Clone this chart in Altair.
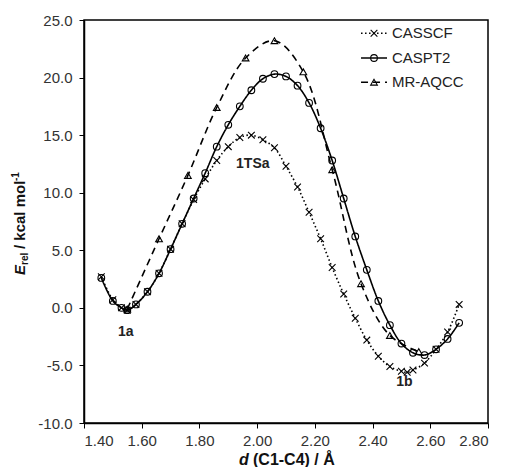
import altair as alt
import pandas as pd

series = ["CASSCF", "CASPT2", "MR-AQCC"]

d_casscf = [1.46, 1.50, 1.53, 1.55, 1.58, 1.62, 1.66, 1.70, 1.74, 1.78, 1.82, 1.86, 1.90, 1.94,
            1.98, 2.02, 2.06, 2.10, 2.14, 2.18, 2.22, 2.26, 2.30, 2.34, 2.38, 2.42, 2.46, 2.50,
            2.52, 2.54, 2.58, 2.62, 2.66, 2.70]
e_casscf = [2.7, 0.7, 0.0, -0.2, 0.3, 1.4, 3.0, 5.1, 7.3, 9.4, 11.2, 12.8, 14.0, 14.8,
            15.0, 14.6, 13.9, 12.3, 10.5, 8.3, 6.0, 3.5, 1.2, -0.9, -2.8, -4.2, -5.1, -5.5,
            -5.6, -5.4, -4.8, -3.6, -2.1, 0.3]

d_caspt2 = [1.46, 1.50, 1.53, 1.55, 1.58, 1.62, 1.66, 1.70, 1.74, 1.78, 1.82, 1.86, 1.90, 1.94,
            1.98, 2.02, 2.06, 2.10, 2.14, 2.18, 2.22, 2.26, 2.30, 2.34, 2.38, 2.42, 2.46, 2.50,
            2.54, 2.58, 2.62, 2.66, 2.70]
e_caspt2 = [2.6, 0.6, 0.0, -0.2, 0.3, 1.4, 3.0, 5.1, 7.3, 9.5, 11.7, 14.0, 15.9, 17.5,
            18.9, 19.9, 20.3, 20.1, 19.3, 17.8, 15.6, 12.8, 9.5, 6.2, 3.3, 0.6, -1.5, -3.1,
            -3.9, -4.1, -3.6, -2.7, -1.3]

d_mraqcc = [1.55, 1.66, 1.76, 1.86, 1.96, 2.06, 2.16, 2.26, 2.36, 2.46, 2.56]
e_mraqcc = [-0.1, 6.0, 11.5, 17.4, 21.7, 23.2, 20.5, 12.0, 2.1, -2.4, -3.8]

x_ticks = [1.4, 1.6, 1.8, 2.0, 2.2, 2.4, 2.6, 2.8]
y_ticks = [-10, -5, 0, 5, 10, 15, 20, 25]

labels = ["1a", "1TSa", "1b"]
label_d = [1.545, 1.985, 2.51]
label_e = [-2.1, 12.5, -6.4]

legend_e = [23.85, 21.7, 19.6]

rows = []
for name, ds, es in zip(series, [d_casscf, d_caspt2, d_mraqcc], [e_casscf, e_caspt2, e_mraqcc]):
    for d, e in zip(ds, es):
        rows.append({"series": name, "d": d, "E": e})
df = pd.DataFrame(rows)

leg = pd.DataFrame({"series": series, "E": legend_e,
                    "x0": [2.36] * 3, "x1": [2.45] * 3, "xm": [2.405] * 3, "xt": [2.467] * 3})
ann = pd.DataFrame({"label": labels, "d": label_d, "E": label_e})

FONT = "Liberation Sans"
TITLE_COLOR = "#111"
xs = alt.Scale(domain=[1.4, 2.8], nice=False, zero=False)
ys = alt.Scale(domain=[-10, 25], nice=False, zero=False)
dash_scale = alt.Scale(domain=series, range=[[1.5, 2.5], [1, 0], [7, 5]])
width_scale = alt.Scale(domain=series, range=[1.6, 1.6, 2.0])
shape_scale = alt.Scale(domain=series,
                        range=["M-1,-1L1,1M-1,1L1,-1", "circle", "triangle-up"])
size_scale = alt.Scale(domain=series, range=[45, 45, 65])

minus_fix = "datum.value < 0 ? '-' + format(-datum.value, '{f}') : format(datum.value, '{f}')"

x_axis = alt.Axis(values=x_ticks, labelExpr=minus_fix.format(f=".2f"), title=None, grid=False,
                  tickSize=5, labelPadding=5, domainColor="black",
                  tickColor="black", domainWidth=1.5, labelFont=FONT, labelFontSize=15,
                  labelColor="#333")
y_axis = alt.Axis(values=y_ticks, labelExpr=minus_fix.format(f=".1f"), title=None, grid=False,
                  tickSize=5, labelPadding=7, domainColor="black",
                  tickColor="black", domainWidth=1.5, labelFont=FONT, labelFontSize=15,
                  labelColor="#333")

base = alt.Chart(df)
lines = base.mark_line(interpolate="catmull-rom", color="black").encode(
    x=alt.X("d:Q", scale=xs, axis=x_axis),
    y=alt.Y("E:Q", scale=ys, axis=y_axis),
    strokeDash=alt.StrokeDash("series:N", scale=dash_scale, legend=None),
    strokeWidth=alt.StrokeWidth("series:N", scale=width_scale, legend=None),
    detail="series:N",
)
points = base.mark_point(filled=False, color="black", strokeWidth=1.1, opacity=1).encode(
    x=alt.X("d:Q", scale=xs),
    y=alt.Y("E:Q", scale=ys),
    shape=alt.Shape("series:N", scale=shape_scale, legend=None),
    size=alt.Size("series:N", scale=size_scale, legend=None),
)

lbase = alt.Chart(leg)
leg_lines = lbase.mark_rule(color="black").encode(
    x=alt.X("x0:Q", scale=xs), x2="x1:Q", y=alt.Y("E:Q", scale=ys),
    strokeDash=alt.StrokeDash("series:N", scale=dash_scale, legend=None),
    strokeWidth=alt.StrokeWidth("series:N", scale=width_scale, legend=None),
)
leg_pts = lbase.mark_point(filled=False, color="black", strokeWidth=1.1, opacity=1).encode(
    x=alt.X("xm:Q", scale=xs), y=alt.Y("E:Q", scale=ys),
    shape=alt.Shape("series:N", scale=shape_scale, legend=None),
    size=alt.Size("series:N", scale=size_scale, legend=None),
)
leg_txt = lbase.mark_text(align="left", baseline="middle", font=FONT, fontSize=15,
                          color="#222").encode(
    x=alt.X("xt:Q", scale=xs), y=alt.Y("E:Q", scale=ys), text="series:N",
)

ann_txt = alt.Chart(ann).mark_text(font=FONT, fontSize=14, fontWeight="bold",
                                   color="#222", baseline="middle").encode(
    x=alt.X("d:Q", scale=xs), y=alt.Y("E:Q", scale=ys), text="label:N",
)

one = alt.Chart(pd.DataFrame({"k": [0]}))


def piece(text, x, y, size, angle=0, italic=False):
    return one.mark_text(text=text, font=FONT, fontSize=size, fontWeight="bold",
                         fontStyle="italic" if italic else "normal", color=TITLE_COLOR,
                         align="left", baseline="alphabetic", angle=angle).encode(
        x=alt.value(x), y=alt.value(y))


# y-axis title: E_rel / kcal mol^-1 (rotated)
yt = [
    piece("E", -59, 255, 15, 270, True),
    piece("rel", -56, 245, 10, 270),
    piece("/ kcal mol", -59, 229, 15, 270),
    piece("-1", -65, 161, 10, 270),
]
# x-axis title: d (C1-C4) / Å
xt = [
    piece("d", 155, 445, 16, 0, True),
    piece("(C1-C4) / Å", 169, 445, 16),
]

chart = alt.layer(lines, points, leg_lines, leg_pts, leg_txt, ann_txt, *yt, *xt).properties(
    width=404, height=403,
    autosize=alt.AutoSizeParams(type="none"),
    padding={"left": 76, "top": 12, "right": 10, "bottom": 44},
    background="white",
).configure_view(stroke="black", strokeWidth=1.5)

chart.save("out.html", embed_options={"renderer": "svg", "actions": False})
